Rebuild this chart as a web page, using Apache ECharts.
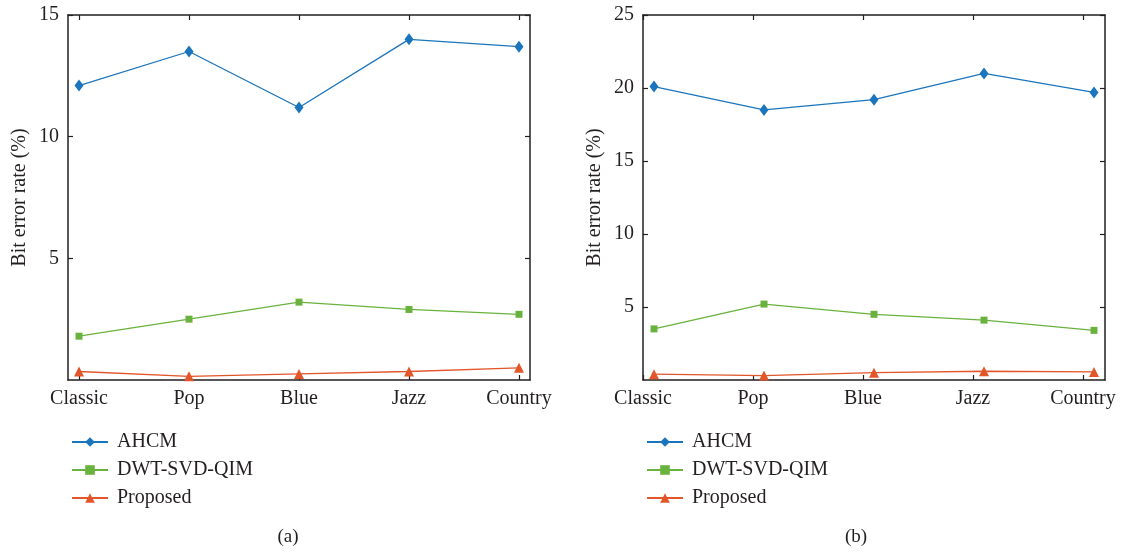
<!DOCTYPE html>
<html>
<head>
<meta charset="utf-8">
<script src="https://cdn.jsdelivr.net/npm/echarts@6/dist/echarts.min.js"></script>
<style>
  html, body { margin: 0; padding: 0; background: #fff; }
  #chart { width: 1127px; height: 552px; }
</style>
</head>
<body>
<div id="chart"></div>
<script>
// 类别
var categories = ['Classic', 'Pop', 'Blue', 'Jazz', 'Country'];
var seriesNames = ['AHCM', 'DWT-SVD-QIM', 'Proposed'];

// panel (a)
var ahcmA = [12.1, 13.5, 11.2, 14.0, 13.7];
var dwtA = [1.8, 2.5, 3.2, 2.9, 2.7];
var propA = [0.35, 0.15, 0.25, 0.35, 0.5];

// panel (b)
var ahcmB = [20.1, 18.5, 19.2, 21.0, 19.7];
var dwtB = [3.5, 5.2, 4.5, 4.1, 3.4];
var propB = [0.4, 0.3, 0.5, 0.6, 0.55];

var yTicksA = [5, 10, 15];
var yTicksB = [5, 10, 15, 20, 25];

var colors = ['#1b75bc', '#6ab23e', '#e2562a'];
var symbols = ['diamond', 'rect', 'triangle'];
var symbolSizes = [[9, 12], 7, 10];
var serif = '"Liberation Serif", "DejaVu Serif", serif';
var ink = '#231f20';

var merge = (a, b) => echarts.util.merge(echarts.util.clone(a), b, true);
var toPoints = arr => arr.map((v, i) => [i, v]);

function xAxes(gi, tickShift) {
  var ticks = categories.map((c, i) => i + tickShift);
  var base = {
    type: 'value',
    gridIndex: gi,
    min: -0.1,
    max: 4.1,
    splitLine: { show: false },
    axisLine: { onZero: false, lineStyle: { color: ink, width: 1.5 } },
    axisTick: { inside: true, length: 5, customValues: ticks, lineStyle: { color: ink, width: 1.2 } }
  };
  return [
    merge(base, {
      position: 'bottom',
      axisLabel: {
        customValues: ticks,
        margin: 9,
        fontFamily: serif,
        fontSize: 20,
        color: ink,
        formatter: v => categories[Math.round(v - tickShift)]
      }
    }),
    merge(base, {
      position: 'top',
      axisLabel: { show: false }
    })
  ];
}

function yAxes(gi, max, ticks) {
  var base = {
    type: 'value',
    gridIndex: gi,
    min: 0,
    max: max,
    interval: 5,
    splitLine: { show: false },
    axisLine: { onZero: false, lineStyle: { color: ink, width: 1.5 } },
    axisTick: { inside: true, length: 5, customValues: ticks, lineStyle: { color: ink, width: 1.2 } }
  };
  return [
    merge(base, {
      position: 'left',
      name: 'Bit error rate (%)',
      nameLocation: 'middle',
      nameGap: 38,
      nameTextStyle: { fontFamily: serif, fontSize: 20, color: ink },
      axisLabel: {
        customValues: ticks,
        margin: 9,
        fontFamily: serif,
        fontSize: 20,
        color: ink
      }
    }),
    merge(base, {
      position: 'right',
      axisLabel: { show: false }
    })
  ];
}

function makeSeries(gi, lists) {
  return lists.map((arr, k) => ({
    name: seriesNames[k],
    type: 'line',
    xAxisIndex: gi * 2,
    yAxisIndex: gi * 2,
    data: toPoints(arr),
    symbol: symbols[k],
    symbolSize: symbolSizes[k],
    showSymbol: true,
    color: colors[k],
    lineStyle: { width: 1.3, color: colors[k] },
    itemStyle: { color: colors[k] }
  }));
}

function legendAt(left) {
  return {
    orient: 'vertical',
    left: left,
    top: 427,
    itemWidth: 36,
    itemHeight: 12,
    itemGap: 8,
    data: seriesNames,
    textStyle: { fontFamily: serif, fontSize: 20, color: ink, padding: [0, 0, 0, 4] }
  };
}

var chart = echarts.init(document.getElementById('chart'), null, { renderer: 'canvas' });
chart.setOption({
  animation: false,
  title: [
    { text: '(a)', left: 283, top: 523, textAlign: 'center', textStyle: { fontFamily: serif, fontSize: 19, fontWeight: 'normal', color: ink } },
    { text: '(b)', left: 851, top: 523, textAlign: 'center', textStyle: { fontFamily: serif, fontSize: 19, fontWeight: 'normal', color: ink } }
  ],
  legend: [legendAt(66), legendAt(641)],
  grid: [
    { left: 68, top: 15, width: 462, height: 365 },
    { left: 643, top: 15, width: 462, height: 365 }
  ],
  xAxis: xAxes(0, 0).concat(xAxes(1, -0.1)),
  yAxis: yAxes(0, 15, yTicksA).concat(yAxes(1, 25, yTicksB)),
  series: makeSeries(0, [ahcmA, dwtA, propA]).concat(makeSeries(1, [ahcmB, dwtB, propB]))
});
</script>
</body>
</html>
